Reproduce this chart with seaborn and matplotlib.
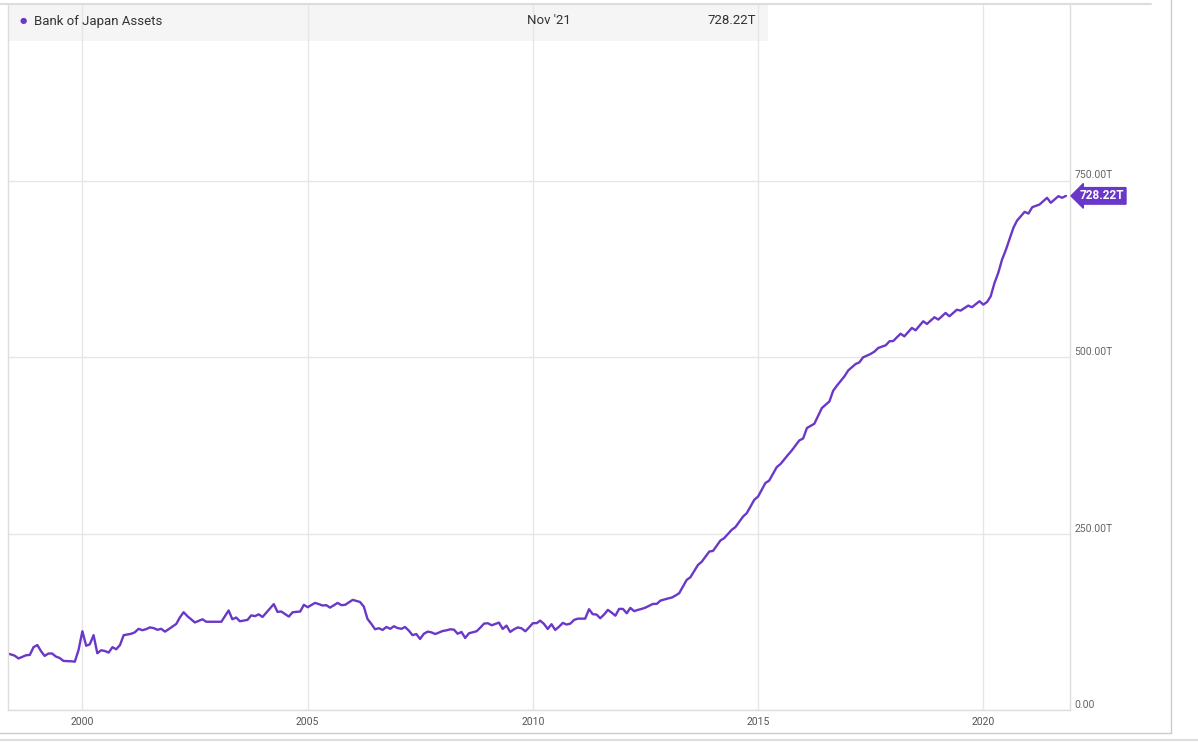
import matplotlib
matplotlib.use("Agg")
import matplotlib.pyplot as plt
import matplotlib.dates as mdates
from matplotlib.lines import Line2D
from matplotlib.patches import Rectangle
import seaborn as sns
import pandas as pd

# Bank of Japan total assets, trillions of yen
months = [
    "1998-05", "1998-07", "1998-08", "1998-10", "1998-11", "1998-12",
    "1999-01", "1999-02", "1999-03", "1999-04", "1999-05", "1999-06",
    "1999-07", "1999-08", "1999-10", "1999-11", "1999-12",
    "2000-01", "2000-02", "2000-03", "2000-04", "2000-05", "2000-06",
    "2000-07", "2000-08", "2000-09", "2000-10", "2000-11", "2000-12",
    "2001-02", "2001-03", "2001-04", "2001-05", "2001-06", "2001-07",
    "2001-08", "2001-09", "2001-10", "2001-11", "2001-12",
    "2002-02", "2002-03", "2002-04", "2002-05", "2002-07", "2002-09",
    "2002-10", "2002-12",
    "2003-02", "2003-04", "2003-05", "2003-06", "2003-07", "2003-09",
    "2003-10", "2003-11", "2003-12",
    "2004-01", "2004-02", "2004-04", "2004-05", "2004-06", "2004-08",
    "2004-09", "2004-11", "2004-12",
    "2005-01", "2005-03", "2005-04", "2005-05", "2005-06", "2005-07",
    "2005-09", "2005-10", "2005-11",
    "2006-01", "2006-03", "2006-04", "2006-05", "2006-06", "2006-07",
    "2006-08", "2006-09", "2006-10", "2006-11", "2006-12",
    "2007-01", "2007-02", "2007-03", "2007-04", "2007-05", "2007-06",
    "2007-07", "2007-08", "2007-09", "2007-10", "2007-11",
    "2008-01", "2008-02", "2008-03", "2008-04", "2008-05", "2008-06",
    "2008-07", "2008-08", "2008-10", "2008-11", "2008-12",
    "2009-01", "2009-02", "2009-04", "2009-05", "2009-06", "2009-07",
    "2009-08", "2009-09", "2009-10", "2009-11", "2009-12",
    "2010-01", "2010-02", "2010-03", "2010-04", "2010-05", "2010-06",
    "2010-07", "2010-08", "2010-09", "2010-10", "2010-11", "2010-12",
    "2011-01", "2011-03", "2011-04", "2011-05", "2011-06", "2011-07",
    "2011-08", "2011-09", "2011-10", "2011-11", "2011-12",
    "2012-01", "2012-02", "2012-03", "2012-04", "2012-05", "2012-06",
    "2012-07", "2012-09", "2012-10", "2012-11",
    "2013-01", "2013-02", "2013-03", "2013-04", "2013-06", "2013-07",
    "2013-09", "2013-10", "2013-12",
    "2014-01", "2014-03", "2014-04", "2014-06", "2014-07", "2014-09",
    "2014-10", "2014-12",
    "2015-01", "2015-03", "2015-04", "2015-06", "2015-07", "2015-09",
    "2015-10", "2015-12",
    "2016-01", "2016-02", "2016-04", "2016-06", "2016-08", "2016-09",
    "2016-10", "2016-12",
    "2017-01", "2017-03", "2017-04", "2017-05", "2017-07", "2017-08",
    "2017-09", "2017-11", "2017-12",
    "2018-01", "2018-03", "2018-04", "2018-06", "2018-07", "2018-09",
    "2018-10", "2018-12",
    "2019-01", "2019-03", "2019-04", "2019-06", "2019-07", "2019-09",
    "2019-10", "2019-12",
    "2020-01", "2020-02", "2020-03", "2020-04", "2020-05", "2020-06",
    "2020-07", "2020-09", "2020-10", "2020-12",
    "2021-01", "2021-02", "2021-04", "2021-06", "2021-07", "2021-09",
    "2021-10", "2021-11",
]
assets = [
    80.4, 77, 73, 77.5, 78, 89,
    92, 83, 76.6, 80, 80, 75.6,
    73.7, 69.5, 69, 68.5, 85,
    111.5, 91, 93, 106, 80.4, 84.6,
    83.6, 81.3, 89, 86, 92, 106,
    108, 110, 115, 113, 114.5, 117,
    116, 113.6, 115, 111, 114.5,
    122, 131, 138.5, 133, 124, 128.5,
    125, 125,
    125, 141, 128.5, 131, 125.7, 127.6,
    134, 133, 135.5,
    131.8, 138, 150, 139, 139.5, 132.3,
    138.5, 139.5, 149,
    145.6, 151.7, 150, 148, 148.5, 145,
    151.7, 148.5, 149,
    156, 153, 146.5, 129, 122, 114.4,
    115.8, 113.4, 117.6, 115, 118.6,
    116, 115, 117.6, 112.5, 106, 107.6,
    100.6, 108, 111, 110, 107.6,
    111.9, 112.9, 114.3, 113.8, 108, 110.5,
    102, 108.7, 111.5, 116.7, 122.4,
    122.9, 120, 123.8, 114.8, 119.5, 110.6,
    114.3, 117, 115.7, 111.5, 117,
    123, 123, 126.6, 121.9, 114.8, 121.5,
    113.4, 118, 123.4, 121, 122.4, 127.6,
    129.4, 129.4, 142.8, 135.7, 135.2, 130,
    135.2, 141.8, 138, 133.6, 143.2,
    143.2, 137, 144.6, 140, 141.8, 143.2,
    145, 150.3, 150.3, 155,
    158, 159.3, 162, 165.4, 184.3, 188,
    205.6, 210, 224.4,
    225.4, 240, 243.4, 255.2, 259, 274,
    278.8, 297.7,
    302.4, 321.4, 325, 344, 348.3, 361.5,
    367.6, 381.8,
    384.6, 399.4, 405.5, 427.7, 437, 452.3,
    459.4, 472.6,
    481, 490, 492.4, 499.5, 504.3, 507.6,
    512.8, 516.6, 522.2,
    522.7, 533, 529.3, 541.2, 537.8, 550.6,
    546.8, 556.3,
    553, 562.4, 557.7, 567, 565.7, 572.8,
    570.5, 579,
    574.2, 578, 586, 605, 619, 638,
    651.2, 683, 693.3, 705.6,
    703.2, 712.2, 716, 725.5, 718.4, 727.8,
    725.5, 728.22,
]
y_ticks = [0, 250, 500, 750]
y_labels = ["0.00", "250.00T", "500.00T", "750.00T"]
series_name = "Bank of Japan Assets"
last_label = "Nov '21"
last_value = "728.22T"

PURPLE = "#6a38c8"
GRID = "#e6e6e6"
W, H = 1198, 743

sns.set_style("white")
plt.rcParams["font.family"] = ["Roboto", "DejaVu Sans"]

df = pd.DataFrame({"date": pd.to_datetime(months), "assets": assets})

fig = plt.figure(figsize=(W / 100, H / 100), dpi=100)
ax = fig.add_axes([8 / W, 1 - 710 / H, (1070 - 8) / W, (710 - 4) / H])

sns.lineplot(data=df, x="date", y="assets", ax=ax, color=PURPLE, linewidth=1.7)

ax.set_xlim(pd.Timestamp("1998-05-08"), pd.Timestamp("2021-12-04"))
ax.set_ylim(0, 1000)
ax.set_xlabel("")
ax.set_ylabel("")

ax.set_yticks(y_ticks)
ax.set_yticklabels(y_labels)
ax.yaxis.tick_right()
ax.tick_params(axis="y", length=0, pad=3, labelsize=7.5, labelcolor="#666666")
for lab in ax.get_yticklabels():
    lab.set_verticalalignment("bottom")

ax.xaxis.set_major_locator(mdates.YearLocator(5))
ax.xaxis.set_major_formatter(mdates.DateFormatter("%Y"))
ax.tick_params(axis="x", length=0, pad=5, labelsize=7.5, labelcolor="#555555")

ax.set_axisbelow(True)
ax.grid(True, color=GRID, linewidth=1)
for side in ["left", "bottom", "right"]:
    ax.spines[side].set_color("#dddddd")
    ax.spines[side].set_linewidth(1)
ax.spines["top"].set_visible(False)

# legend strip at the top (sits under the grid lines)
ax.add_patch(Rectangle((8 / W, 1 - 41 / H), 760 / W, 36 / H, transform=fig.transFigure,
                       facecolor="#f5f5f5", edgecolor="none", zorder=0.2, clip_on=False))
fig.text(23 / W, 1 - 21 / H, "●", color=PURPLE, fontsize=6, ha="center", va="center")
fig.text(34 / W, 1 - 21 / H, series_name, color="#333333", fontsize=9.5, va="center")
fig.text(571 / W, 1 - 21 / H, last_label, color="#333333", fontsize=9.5, ha="right", va="center")
fig.text(756 / W, 1 - 21 / H, last_value, color="#333333", fontsize=9.5, ha="right", va="center")

# last value tag
ax.annotate(last_value, xy=(1.0, assets[-1]), xycoords=("axes fraction", "data"),
            xytext=(7, 0), textcoords="offset points", ha="left", va="center",
            color="white", fontsize=8.5, fontweight="bold",
            bbox=dict(boxstyle="larrow,pad=0.15", fc=PURPLE, ec=PURPLE))

# page frame lines
fig.add_artist(Line2D([0, 1151 / W], [1 - 3.5 / H] * 2, color="#dddddd", lw=1.5))
fig.add_artist(Line2D([1170.5 / W] * 2, [1, 1 - 733 / H], color="#cccccc", lw=1))
fig.add_artist(Line2D([0, 1170.5 / W], [1 - 733 / H] * 2, color="#cccccc", lw=1))
fig.add_artist(Line2D([0, 1], [1 - 739.5 / H] * 2, color="#dddddd", lw=1.5))

fig.savefig("out.png", dpi=100)
